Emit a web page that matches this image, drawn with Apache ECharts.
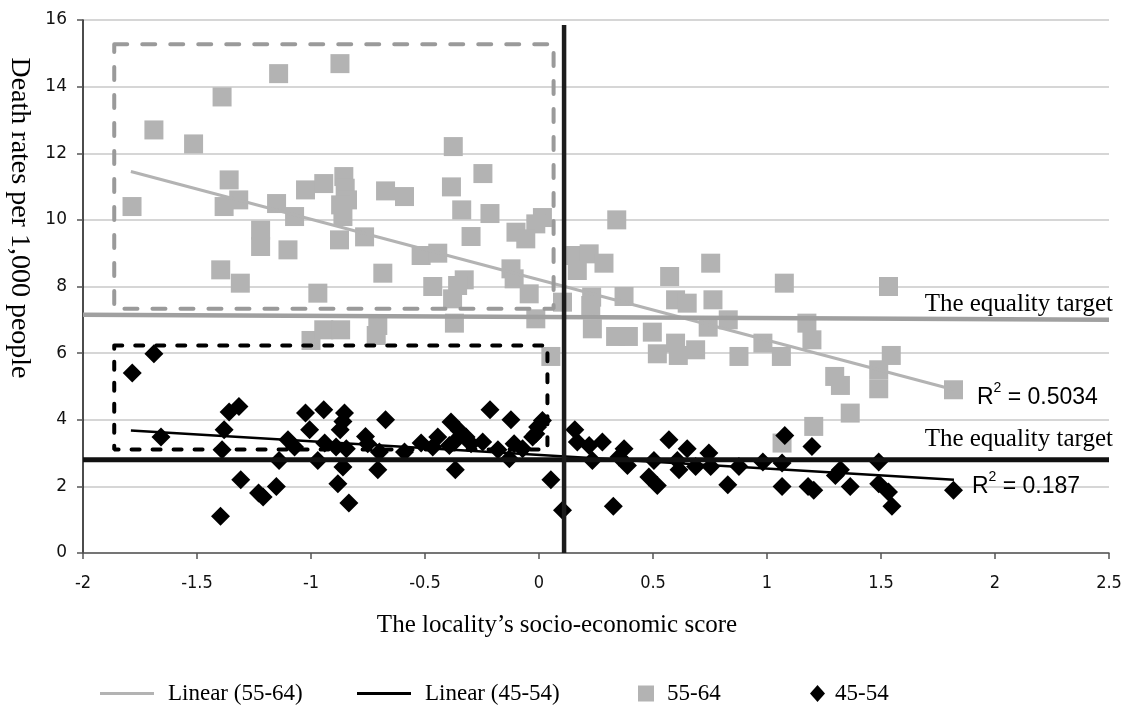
<!DOCTYPE html>
<html>
<head>
<meta charset="utf-8" />
<title>Death rates vs socio-economic score</title>
<script src="https://cdn.jsdelivr.net/npm/echarts@6/dist/echarts.min.js"></script>
<style>
  html, body { margin: 0; padding: 0; background: #fff; }
  #chart { width: 1128px; height: 707px; }
</style>
</head>
<body>
<div id="chart"></div>
<script>
// 55-64 age group (grey squares)
const olderX = [-1.785, -1.689, -1.515, -1.39, -1.142, -0.873, -1.359, -1.317, -1.381, -1.151,
  -1.072, -1.024, -0.944, -0.856, -0.85, -0.84, -0.87, -0.86, -0.673, -1.221,
  -1.221, -0.765, -1.101, -0.875, -1.396, -1.31, -0.97, -0.685, -1.0, -0.944,
  -0.87, -0.707, -0.714, -0.376, -0.59, -0.384, -0.246, -0.339, -0.215, 0.015,
  -0.014, 0.341, -0.101, -0.058, -0.298, -0.517, -0.444, -0.123, -0.109, -0.043,
  -0.466, -0.328, -0.357, -0.379, -0.371, -0.014, 0.103, 0.052, 0.161, 0.22,
  0.168, 0.285, 0.231, 0.227, 0.373, 0.234, 0.336, 0.392, 0.497, 0.519,
  0.753, 0.573, 1.076, 1.533, 0.599, 0.65, 0.763, 0.83, 0.742, 1.175,
  1.197, 0.599, 0.611, 0.687, 0.877, 0.982, 1.063, 1.297, 1.322, 1.49,
  1.49, 1.545, 1.818, 1.365, 1.205, 1.066];
const olderY = [10.4, 12.7, 12.28, 13.69, 14.39, 14.69, 11.2, 10.6, 10.4, 10.49,
  10.1, 10.9, 11.09, 11.3, 10.95, 10.6, 10.45, 10.1, 10.87, 9.69,
  9.2, 9.49, 9.1, 9.4, 8.5, 8.1, 7.8, 8.4, 6.38, 6.7,
  6.7, 6.83, 6.53, 12.2, 10.7, 10.99, 11.39, 10.3, 10.19, 10.07,
  9.88, 10.0, 9.63, 9.43, 9.5, 8.93, 9.0, 8.53, 8.23, 7.78,
  8.0, 8.2, 8.03, 7.63, 6.9, 7.03, 7.53, 5.9, 8.93, 8.98,
  8.48, 8.7, 7.68, 7.43, 7.7, 6.73, 6.5, 6.5, 6.63, 5.98,
  8.7, 8.3, 8.1, 8.0, 7.6, 7.5, 7.6, 7.0, 6.78, 6.9,
  6.4, 6.3, 5.93, 6.1, 5.9, 6.3, 5.9, 5.3, 5.03, 5.5,
  4.93, 5.93, 4.9, 4.2, 3.8, 3.3];

// 45-54 age group (black diamonds)
const youngerX = [-1.784, -1.689, -1.658, -1.39, -1.381, -1.359, -1.316, -1.308, -1.397, -1.23,
  -1.21, -1.152, -1.14, -1.101, -1.072, -1.024, -1.006, -0.944, -0.94, -0.97,
  -0.853, -0.86, -0.872, -0.845, -0.89, -0.86, -0.882, -0.834, -0.761, -0.751,
  -0.707, -0.673, -0.70, -0.59, -0.517, -0.444, -0.466, -0.386, -0.367, -0.35,
  -0.365, -0.32, -0.298, -0.393, -0.247, -0.215, -0.18, -0.123, -0.13, -0.109,
  -0.072, -0.028, -0.006, 0.015, -0.014, 0.052, 0.103, 0.157, 0.168, 0.22,
  0.234, 0.278, 0.326, 0.373, 0.388, 0.351, 0.504, 0.519, 0.482, 0.57,
  0.65, 0.607, 0.614, 0.687, 0.745, 0.753, 0.828, 0.877, 0.982, 1.066,
  1.078, 1.066, 1.197, 1.205, 1.18, 1.322, 1.3, 1.365, 1.49, 1.49,
  1.533, 1.548, 1.818];
const youngerY = [5.4, 5.98, 3.48, 3.1, 3.7, 4.23, 4.4, 2.2, 1.1, 1.8,
  1.68, 2.0, 2.78, 3.4, 3.18, 4.2, 3.7, 4.3, 3.3, 2.78,
  4.2, 3.95, 3.7, 3.13, 3.18, 2.58, 2.08, 1.5, 3.5, 3.28,
  2.5, 4.0, 3.03, 3.03, 3.3, 3.48, 3.18, 3.93, 2.5, 3.68,
  3.38, 3.48, 3.28, 3.23, 3.33, 4.3, 3.1, 4.0, 2.83, 3.28,
  3.13, 3.48, 3.78, 3.98, 3.58, 2.2, 1.28, 3.7, 3.33, 3.23,
  2.78, 3.33, 1.4, 3.13, 2.63, 2.88, 2.78, 2.03, 2.28, 3.4,
  3.13, 2.78, 2.5, 2.6, 3.0, 2.6, 2.05, 2.6, 2.73, 2.0,
  3.53, 2.7, 3.2, 1.88, 2.0, 2.5, 2.33, 2.0, 2.73, 2.08,
  1.83, 1.4, 1.88];

// linear trend lines (end points as drawn)
const trendX = [-1.79, 1.82];
const trendOlderY = [11.45, 4.9];
const trendYoungerY = [3.68, 2.2];

// equality targets
const targetX = [-2, 2.5];
const targetOlderY = [7.15, 7.0];
const targetYoungerY = [2.8, 2.8];

// vertical divider
const dividerX = [0.11, 0.11];
const dividerY = [0, 15.85];

// dashed boxes
const boxOlderX = [-1.863, 0.064, 0.064, -1.863, -1.863];
const boxOlderY = [15.27, 15.27, 7.33, 7.33, 15.27];
const boxYoungerX = [-1.863, 0.037, 0.037, -1.863, -1.863];
const boxYoungerY = [6.23, 6.23, 3.11, 3.11, 6.23];

const r2Older = '0.5034';
const r2Younger = '0.187';

function pairs(xs, ys) {
  return xs.map(function (x, i) { return [x, ys[i]]; });
}

const serif = 'Liberation Serif, Times New Roman, serif';
const chart = echarts.init(document.getElementById('chart'));

const option = {
  backgroundColor: '#fff',
  animation: false,
  grid: { left: 83, right: 19, top: 20, bottom: 154, containLabel: false, outerBoundsMode: 'none' },
  xAxis: {
    type: 'value',
    min: -2,
    max: 2.5,
    interval: 0.5,
    axisLine: { onZero: false, lineStyle: { color: '#555', width: 1.5 } },
    axisTick: { show: true, length: 6, lineStyle: { color: '#555', width: 1.5 } },
    axisLabel: { margin: 21, color: '#111', fontSize: 18, fontFamily: 'DejaVu Sans Condensed, Liberation Sans Narrow, sans-serif' },
    splitLine: { show: false }
  },
  yAxis: {
    type: 'value',
    min: 0,
    max: 16,
    interval: 2,
    axisLine: { show: true, onZero: false, lineStyle: { color: '#111', width: 1.5 } },
    axisTick: { show: true, length: 6, lineStyle: { color: '#555', width: 1.5 } },
    axisLabel: { margin: 16, color: '#111', fontSize: 17, fontFamily: 'DejaVu Sans, sans-serif' },
    splitLine: { show: true, lineStyle: { color: '#c8c8c8', width: 1.5 } }
  },
  legend: [
    {
      left: 100, top: 682, padding: 0, itemWidth: 54, itemHeight: 3,
      data: [{ name: 'Linear (55-64)', icon: 'rect', itemStyle: { color: '#b3b3b3' } }],
      textStyle: { fontFamily: serif, fontSize: 23, color: '#000', padding: [0, 0, 0, 9] }
    },
    {
      left: 357, top: 682, padding: 0, itemWidth: 54, itemHeight: 3,
      data: [{ name: 'Linear (45-54)', icon: 'rect', itemStyle: { color: '#000' } }],
      textStyle: { fontFamily: serif, fontSize: 23, color: '#000', padding: [0, 0, 0, 9] }
    },
    {
      left: 638, top: 682, padding: 0, itemWidth: 16, itemHeight: 16,
      data: [{ name: '55-64', icon: 'rect', itemStyle: { color: '#b3b3b3' } }],
      textStyle: { fontFamily: serif, fontSize: 23, color: '#000', padding: [0, 0, 0, 8] }
    },
    {
      left: 810, top: 682, padding: 0, itemWidth: 15, itemHeight: 17,
      data: [{ name: '45-54', icon: 'diamond', itemStyle: { color: '#000' } }],
      textStyle: { fontFamily: serif, fontSize: 23, color: '#000', padding: [0, 0, 0, 5] }
    }
  ],
  series: [
    {
      name: '55-64',
      type: 'scatter',
      symbol: 'rect',
      symbolSize: 19,
      itemStyle: { color: '#b3b3b3', opacity: 1 },
      data: pairs(olderX, olderY),
      z: 2
    },
    {
      name: '45-54',
      type: 'scatter',
      symbol: 'diamond',
      symbolSize: 19,
      itemStyle: { color: '#000', opacity: 1 },
      data: pairs(youngerX, youngerY),
      z: 2
    },
    {
      name: 'Linear (55-64)',
      type: 'line',
      showSymbol: false,
      silent: true,
      itemStyle: { color: '#b3b3b3' },
      lineStyle: { color: '#b3b3b3', width: 3 },
      data: pairs(trendX, trendOlderY),
      z: 3
    },
    {
      name: 'Linear (45-54)',
      type: 'line',
      showSymbol: false,
      silent: true,
      itemStyle: { color: '#000' },
      lineStyle: { color: '#000', width: 2.5 },
      data: pairs(trendX, trendYoungerY),
      z: 3
    },
    {
      name: 'target 55-64',
      type: 'line',
      showSymbol: false,
      silent: true,
      lineStyle: { color: '#a0a0a0', width: 4.5 },
      data: pairs(targetX, targetOlderY),
      z: 4
    },
    {
      name: 'target 45-54',
      type: 'line',
      showSymbol: false,
      silent: true,
      lineStyle: { color: '#111', width: 5 },
      data: pairs(targetX, targetYoungerY),
      z: 4
    },
    {
      name: 'divider',
      type: 'line',
      showSymbol: false,
      silent: true,
      lineStyle: { color: '#1c1c1c', width: 4.5 },
      data: pairs(dividerX, dividerY),
      z: 5
    },
    {
      name: 'box 55-64',
      type: 'line',
      showSymbol: false,
      silent: true,
      lineStyle: { color: '#9a9a9a', width: 4, type: [13, 15], cap: 'round' },
      data: pairs(boxOlderX, boxOlderY),
      z: 4
    },
    {
      name: 'box 45-54',
      type: 'line',
      showSymbol: false,
      silent: true,
      lineStyle: { color: '#000', width: 4, type: [8, 13], cap: 'round' },
      data: pairs(boxYoungerX, boxYoungerY),
      z: 4
    }
  ]
};
chart.setOption(option);

// text annotations placed relative to the lines they describe
const gEnd = chart.convertToPixel({ gridIndex: 0 }, [targetX[1], targetOlderY[1]]);
const bEnd = chart.convertToPixel({ gridIndex: 0 }, [targetX[1], targetYoungerY[1]]);
const tgEnd = chart.convertToPixel({ gridIndex: 0 }, [trendX[1], trendOlderY[1]]);
const tbEnd = chart.convertToPixel({ gridIndex: 0 }, [trendX[1], trendYoungerY[1]]);

const r2Rich = {
  r: { fontFamily: 'Liberation Sans, Arial, sans-serif', fontSize: 23, lineHeight: 28, verticalAlign: 'bottom', fill: '#000' },
  s: { fontFamily: 'Liberation Sans, Arial, sans-serif', fontSize: 14, lineHeight: 28, verticalAlign: 'top', fill: '#000' }
};

chart.setOption({
  graphic: [
    {
      type: 'text', x: gEnd[0] + 4, y: gEnd[1] - 15, z: 10,
      style: { text: 'The equality target', font: '25px ' + serif, fill: '#000', align: 'right', verticalAlign: 'middle' }
    },
    {
      type: 'text', x: bEnd[0] + 4, y: bEnd[1] - 20, z: 10,
      style: { text: 'The equality target', font: '25px ' + serif, fill: '#000', align: 'right', verticalAlign: 'middle' }
    },
    {
      type: 'text', x: tgEnd[0] + 23, y: tgEnd[1] + 5, z: 10,
      style: { text: '{r|R}{s|2}{r| = ' + r2Older + '}', rich: r2Rich, align: 'left', verticalAlign: 'middle' }
    },
    {
      type: 'text', x: tbEnd[0] + 18, y: tbEnd[1] + 4, z: 10,
      style: { text: '{r|R}{s|2}{r| = ' + r2Younger + '}', rich: r2Rich, align: 'left', verticalAlign: 'middle' }
    },
    {
      type: 'text', x: 557, y: 625, z: 10,
      style: { text: 'The locality\u2019s socio-economic score', font: '25px ' + serif, fill: '#000', align: 'center', verticalAlign: 'middle' }
    },
    {
      type: 'text', x: 19, y: 218, rotation: -Math.PI / 2, z: 10,
      style: { text: 'Death rates per 1,000 people', font: '28px ' + serif, fill: '#000', align: 'center', verticalAlign: 'middle' }
    }
  ]
});
</script>
</body>
</html>
